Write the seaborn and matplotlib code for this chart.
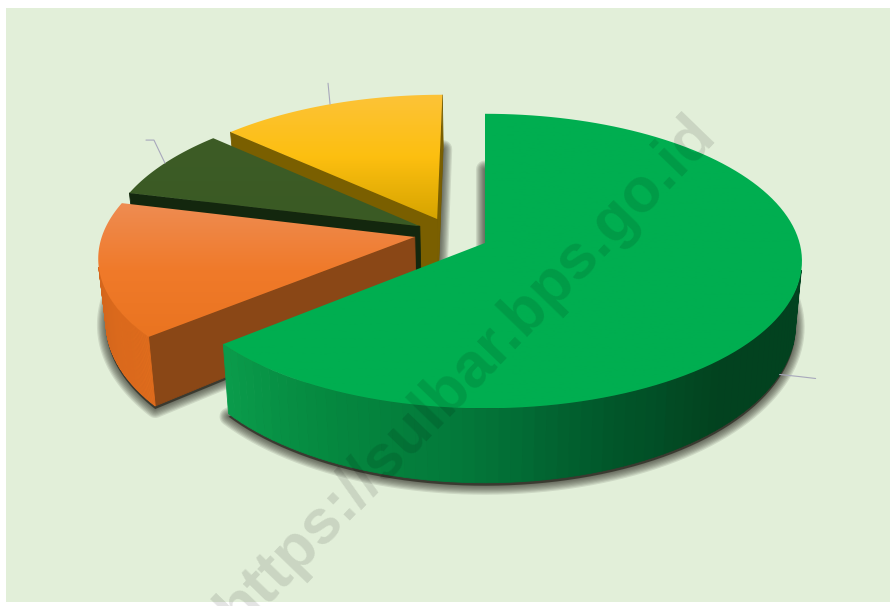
import numpy as np
import matplotlib
matplotlib.use("Agg")
import matplotlib.pyplot as plt
from matplotlib.patches import Polygon, Rectangle
import seaborn as sns

# Slice shares in percent, running clockwise from twelve o'clock
shares = [63.9, 15.0, 7.9, 13.2]

# Top-face shading (top of slice to bottom of slice)
top_colors = [
    ["#00ae50", "#00ae50"],
    ["#ee8c52", "#f07a2a", "#ea7420"],
    ["#3d5c26", "#3a5a24"],
    ["#fcc338", "#fdbf10", "#d6a400"],
]
# Outer wall shading, following the arc clockwise
rim_colors = [
    ["#02421f"] * 7 + ["#01582b", "#03783a", "#05883f", "#0a9b4b"],
    ["#e06c1c", "#d4661c", "#c9651f"],
    ["#14280f", "#14280f"],
    ["#7a5f00", "#7a5f00"],
]
# Cut-face colours
cut_colors = ["#0a9b4b", "#8a4716", "#13270e", "#7a5f00"]

# Pull-out of every slice from the pie centre, in pie radii
pull_x = [0.0, -0.22, -0.206, -0.152]
pull_y = [0.0, 0.041, 0.115, 0.165]

# Projection of the tilted disc onto the page
CX, CY = 485.0, 243.0
RX, RY = 321.0, 148.0
PERSP = 0.125
RADIUS = 0.98
DEPTH = 62.0
BASE_SHRINK = 0.98


def project(x, y, base=False):
    x, y = np.asarray(x, float), np.asarray(y, float)
    s = 1.0 / (1.0 + PERSP * y)
    px = RX * x * s
    py = -RY * y * s
    if base:
        return CX + px * BASE_SHRINK, CY + py + DEPTH * s ** 1.4
    return CX + px, CY + py


def slice_outline(start, stop, ox, oy):
    """World outline of a slice: apex first, then the arc clockwise."""
    ang = np.radians(np.linspace(start, stop, 120))
    x = np.r_[ox, ox + RADIUS * np.sin(ang)]
    y = np.r_[oy, oy + RADIUS * np.cos(ang)]
    return x, y


sns.set_theme(style="white")
plt.rcParams["font.family"] = ["Liberation Sans", "DejaVu Sans"]

fig = plt.figure(figsize=(8.94, 6.06), dpi=100, facecolor="white")
ax = fig.add_axes([0, 0, 1, 1])
ax.set_axis_off()
ax.add_patch(Rectangle((6, 8), 884, 594, facecolor="#e2efd9", edgecolor="none", zorder=0))

edges = np.r_[0, np.cumsum(shares)] / np.sum(shares) * 360.0
outlines = [slice_outline(edges[i], edges[i + 1], pull_x[i], pull_y[i]) for i in range(len(shares))]

# Soft drop shadow beneath every base
for x, y in outlines:
    bx, by = project(x, y, base=True)
    pts = np.c_[bx, by + 3]
    for lw in np.linspace(13, 1, 8):
        ax.add_patch(Polygon(pts, closed=True, facecolor="none", edgecolor="#2e2e26",
                             linewidth=lw, alpha=0.12, joinstyle="round", zorder=1))
    ax.add_patch(Polygon(pts, closed=True, facecolor="#3a3a30", edgecolor="none", zorder=1))


def draw_wall(p, q, color, z):
    tx, ty = project([p[0], q[0]], [p[1], q[1]])
    bx, by = project([p[0], q[0]], [p[1], q[1]], base=True)
    quad = np.c_[np.r_[tx, bx[::-1]], np.r_[ty, by[::-1]]]
    a = quad[:, 0]
    b = quad[:, 1]
    area = 0.5 * np.sum(a * np.roll(b, -1) - np.roll(a, -1) * b)
    # Walls turned away from the viewer stay hidden
    if area < 0:
        ax.add_patch(Polygon(quad, closed=True, facecolor=color, edgecolor=color,
                             linewidth=0.6, zorder=z))


# Back slices first so nearer ones overlap them
for order, i in enumerate([3, 2, 1, 0]):
    z = 2 + order
    x, y = outlines[i]
    n = len(x)
    rim = sns.blend_palette(rim_colors[i], n_colors=n - 2)
    # cut face leaving the apex, rim, cut face returning to the apex
    draw_wall((x[0], y[0]), (x[1], y[1]), cut_colors[i], z)
    for k in range(1, n - 1):
        draw_wall((x[k], y[k]), (x[k + 1], y[k + 1]), rim[k - 1], z)
    draw_wall((x[-1], y[-1]), (x[0], y[0]), cut_colors[i], z)

    tx, ty = project(x, y)
    face = Polygon(np.c_[tx, ty], closed=True, facecolor="none", edgecolor="none", zorder=z)
    ax.add_patch(face)
    cmap = sns.blend_palette(top_colors[i], as_cmap=True)
    img = ax.imshow(np.linspace(0, 1, 256)[:, None], cmap=cmap, aspect="auto",
                    extent=(tx.min(), tx.max(), ty.max(), ty.min()), zorder=z + 0.5)
    img.set_clip_path(face)

ax.set_xlim(0, 894)
ax.set_ylim(606, 0)

# Thin leader lines from three slices
line_color = "#a8a8bc"
mid = 0.5 * (edges[:-1] + edges[1:])
for i, base, steps in [(3, False, [(-2, -21)]), (2, False, [(-11, -23), (-19, -23)]), (0, True, [(19, 2), (36, 4)])]:
    ang = np.radians(mid[i])
    lx, ly = project(pull_x[i] + RADIUS * np.sin(ang), pull_y[i] + RADIUS * np.cos(ang), base=base)
    xs = [float(lx)] + [float(lx) + d[0] for d in steps]
    ys = [float(ly)] + [float(ly) + d[1] for d in steps]
    ax.plot(xs, ys, color=line_color, lw=0.8, zorder=8, solid_capstyle="round")

# Watermark across the whole panel
ax.text(466, 372, "https://sulbar.bps.go.id", rotation=46, rotation_mode="anchor",
        ha="center", va="center", fontsize=45, fontweight="bold",
        color="black", alpha=0.11, zorder=9, clip_on=True)

sns.despine(ax=ax, left=True, bottom=True)
fig.savefig("out.png", dpi=100, facecolor="white")
